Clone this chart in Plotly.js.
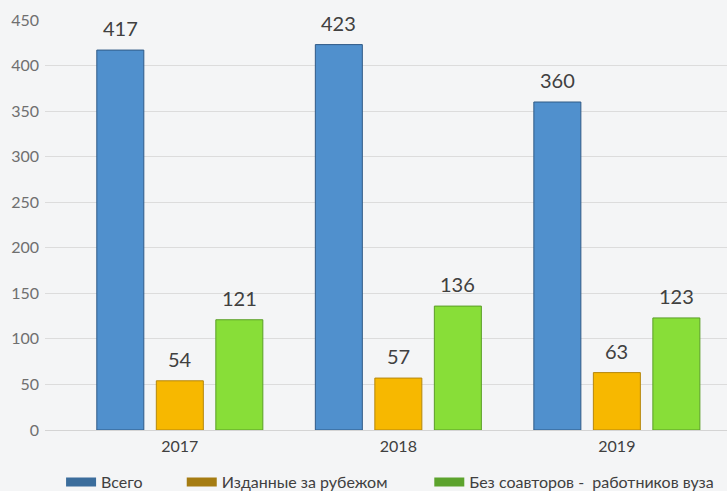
<!DOCTYPE html>
<html><head><meta charset="utf-8">
<script src="https://cdn.plot.ly/plotly-3.0.1.min.js"></script>
<style>html,body{margin:0;padding:0;background:#f4f5f6;}#chart{width:727px;height:491px;}</style>
</head><body><div id="chart"></div>
<script>
const years = ['2017', '2018', '2019'];
const seriesNames = ['Всего', 'Изданные за рубежом', 'Без соавторов -  работников вуза'];
const total = [417, 423, 360];
const abroad = [54, 57, 63];
const noCoauthors = [121, 136, 123];
const yTicks = [0, 50, 100, 150, 200, 250, 300, 350, 400, 450];

const barColors = ['#5090cd', '#f7b800', '#88de38'];
const lineColors = ['#2f5a86', '#b5870c', '#5a9e27'];
const legendColors = ['#3b6d9c', '#a57c12', '#5ca32d'];
const values = [total, abroad, noCoauthors];
const font = 'Lato, "Liberation Sans", sans-serif';

const W = 727, H = 491;
const margin = {l: 45, r: 0, t: 20, b: 61, autoexpand: false};
const xRange = [-0.617, 2.504];
const bargap = 0.183, bargroupgap = 0.21;
const unitPx = (W - margin.l - margin.r) / (xRange[1] - xRange[0]);
const slotPx = unitPx * (1 - bargap) / values.length;

const traces = [];
const annotations = [];
values.forEach((v, i) => {
  traces.push({
    type: 'bar', x: years, y: v, name: seriesNames[i], showlegend: false,
    marker: {color: barColors[i], line: {color: lineColors[i], width: 1}},
    hoverinfo: 'skip'
  });
  v.forEach((val, j) => {
    annotations.push({
      x: j, y: val, xref: 'x', yref: 'y', text: String(val), showarrow: false,
      xanchor: 'center', yanchor: 'bottom', yshift: 8,
      xshift: (i - (values.length - 1) / 2) * slotPx,
      font: {family: font, size: 20, color: '#404040'}
    });
  });
});
// legend swatches (darker colours and wide rectangles as in the reference legend)
const legendIds = ['legend', 'legend2', 'legend3'];
values.forEach((v, i) => {
  traces.push({
    type: 'scatter', mode: 'lines', x: [years[0]], y: [0], xaxis: 'x2', yaxis: 'y2',
    name: seriesNames[i], showlegend: true, legend: legendIds[i],
    line: {color: legendColors[i], width: 9}, hoverinfo: 'skip'
  });
});

const legendBase = {orientation: 'h', xref: 'container', yref: 'container', xanchor: 'left',
  yanchor: 'middle', y: 0.018, bgcolor: 'rgba(0,0,0,0)', borderwidth: 0,
  font: {size: 16, color: '#404040', family: font}, itemwidth: 30};

const layout = {
  width: W, height: H,
  paper_bgcolor: '#f4f5f6', plot_bgcolor: 'rgba(0,0,0,0)',
  margin: margin,
  barmode: 'group', bargap: bargap, bargroupgap: bargroupgap,
  font: {family: font, color: '#404040'},
  xaxis: {type: 'category', range: xRange, showgrid: false, showline: false,
    ticks: '', tickfont: {size: 16, color: '#404040', family: font}, ticklabelstandoff: 5},
  yaxis: {range: [0, 450], tickvals: yTicks, showgrid: true, gridcolor: '#dcdcdc', gridwidth: 1,
    zeroline: true, zerolinecolor: '#d4d4d4', zerolinewidth: 1, showline: false, ticks: '',
    tickfont: {size: 16, color: '#6f6f6f', family: font}, ticklabelstandoff: 5},
  xaxis2: {type: 'category', overlaying: 'x', visible: false, range: [5, 6]},
  yaxis2: {overlaying: 'y', visible: false, range: [5, 6]},
  legend: Object.assign({}, legendBase, {x: 0.084}),
  legend2: Object.assign({}, legendBase, {x: 0.250}),
  legend3: Object.assign({}, legendBase, {x: 0.5905}),
  annotations: annotations
};
Plotly.newPlot('chart', traces, layout, {staticPlot: true, displayModeBar: false});
</script></body></html>
